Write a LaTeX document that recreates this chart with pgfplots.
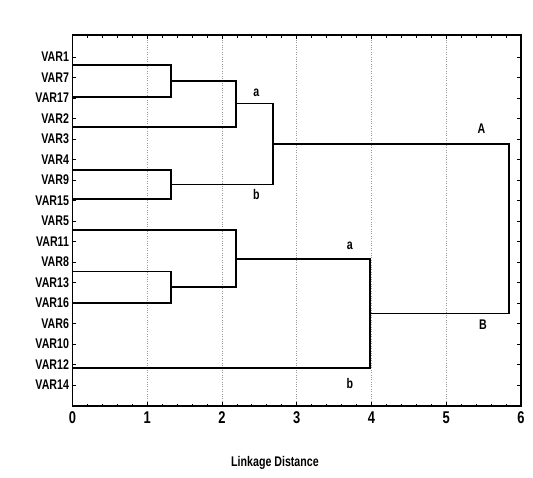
\documentclass[border=0pt]{standalone}
\usepackage{fontspec}
\setmainfont{Liberation Sans}[FakeStretch=0.76]
\usepackage{pgfplots}
\pgfplotsset{compat=1.18}

\begin{document}
\begin{tikzpicture}
\useasboundingbox (-72.5bp,-72bp) rectangle (460.5bp,406bp);
\begin{axis}[
    at={(0,0)}, anchor=south west,
    scale only axis,
    width=448.5bp, height=371bp,
    xmin=0, xmax=6,
    ymin=-0.07, ymax=18.02,
    y dir=reverse,
    xtick={0,...,6},
    minor x tick num=4,
    ytick={1,...,17},
    yticklabels={VAR1,VAR7,VAR17,VAR2,VAR3,VAR4,VAR9,VAR15,VAR5,VAR11,VAR8,VAR13,VAR16,VAR6,VAR10,VAR12,VAR14},
    xtick pos=both, ytick pos=both,
    tick align=inside,
    major tick length=4bp, minor tick length=2.5bp,
    every tick/.style={black, line width=0.8pt},
    xmajorgrids,
    major x grid style={dotted, black!40, line width=0.6pt},
    axis line style={line width=1.4pt},
    /pgf/number format/assume math mode=true,
    xticklabel style={font=\bfseries\fontsize{17bp}{19bp}\selectfont, yshift=-2bp},
    yticklabel style={font=\bfseries\fontsize{14bp}{16bp}\selectfont},
    xlabel={Linkage Distance},
    xlabel style={font=\bfseries\fontsize{14bp}{16bp}\selectfont, at={(axis description cs:0.4515,0)}, anchor=center, yshift=-57bp},
    clip=false,
]

% leaf clusters
\addplot[black, line width=1.6pt] coordinates {(0,1.39) (1.32,1.39) (1.32,2.94) (0,2.94)};
\addplot[black, line width=1.6pt] coordinates {(1.32,2.17) (2.19,2.17) (2.19,4.41) (0,4.41)};
\addplot[black, line width=1.6pt] coordinates {(0,6.51) (1.32,6.51) (1.32,7.93) (0,7.93)};
\addplot[black, line width=1.6pt] coordinates {(2.19,3.26) (2.68,3.26) (2.68,7.21) (1.32,7.21)};
\addplot[black, line width=1.6pt] coordinates {(0,11.47) (1.32,11.47) (1.32,13.0) (0,13.0)};
\addplot[black, line width=1.6pt] coordinates {(0,9.44) (2.19,9.44) (2.19,12.23) (1.32,12.23)};
\addplot[black, line width=1.6pt] coordinates {(2.19,10.85) (3.98,10.85) (3.98,16.16) (0,16.16)};
% top merge A / B
\addplot[black, line width=1.6pt] coordinates {(2.68,5.24) (5.84,5.24) (5.84,13.5) (3.98,13.5)};

\begin{scope}[every node/.style={font=\bfseries\fontsize{14bp}{16bp}\selectfont}]
\node at (axis cs:2.46,2.74) {a};
\node at (axis cs:2.46,7.73) {b};
\node at (axis cs:5.47,4.51) {A};
\node at (axis cs:5.49,14.07) {B};
\node at (axis cs:3.71,10.22) {a};
\node at (axis cs:3.71,16.92) {b};
\end{scope}
\end{axis}
\end{tikzpicture}
\end{document}
